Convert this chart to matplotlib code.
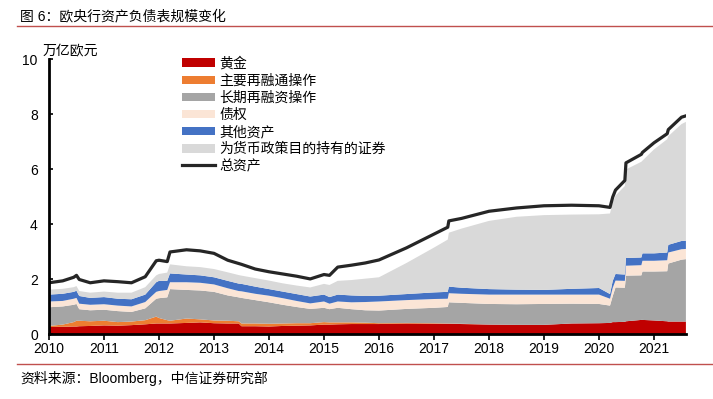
import numpy as np
import matplotlib
matplotlib.use("Agg")
from matplotlib import pyplot as plt

plt.rcParams['font.family'] = ['Liberation Sans', 'Noto Sans CJK SC', 'DejaVu Sans']

# fechas en años decimales (lecturas del gráfico original)
years = [2010.00, 2010.25, 2010.45, 2010.50, 2010.55, 2010.75, 2011.00, 2011.25, 2011.50, 2011.75,
         2011.95, 2012.00, 2012.15, 2012.20, 2012.50, 2012.75, 2013.00, 2013.25, 2013.45, 2013.50,
         2013.75, 2014.00, 2014.25, 2014.50, 2014.75, 2015.00, 2015.10, 2015.25, 2015.50, 2015.75,
         2016.00, 2016.50, 2017.00, 2017.25, 2017.27, 2017.50, 2018.00, 2018.50, 2019.00, 2019.50,
         2020.00, 2020.20, 2020.25, 2020.30, 2020.47, 2020.49, 2020.77, 2020.79, 2021.00, 2021.24,
         2021.26, 2021.50, 2021.58]

# componentes (万亿欧元)
gold = [.27, .28, .29, .29, .30, .31, .33, .32, .34, .37,
        .40, .40, .40, .40, .42, .44, .41, .40, .40, .30,
        .30, .29, .31, .32, .33, .36, .36, .37, .38, .38,
        .38, .40, .39, .39, .39, .38, .36, .35, .35, .40,
        .41, .42, .45, .45, .46, .48, .53, .53, .51, .48,
        .47, .47, .47]
mro = [.04, .08, .16, .21, .20, .17, .17, .13, .13, .15,
       .25, .20, .12, .10, .16, .11, .10, .10, .08, .10,
       .10, .10, .09, .09, .08, .09, .08, .07, .06, .05,
       .03, .02, .02, .01, .01, .01, 0, 0, 0, 0,
       0, 0, 0, 0, 0, 0, 0, 0, 0, 0,
       0, 0, 0]
ltro = [.68, .66, .63, .61, .42, .40, .40, .40, .35, .43,
        .65, .72, .83, 1.15, 1.04, 1.05, 1.04, .92, .87, .93,
        .85, .78, .68, .59, .52, .52, .48, .53, .48, .45,
        .46, .51, .56, .60, .77, .76, .75, .75, .76, .72,
        .70, .63, .95, 1.26, 1.24, 1.66, 1.62, 1.76, 1.78, 1.82,
        2.11, 2.25, 2.27]
claims = [.21, .20, .22, .22, .20, .20, .20, .20, .20, .23,
          .25, .26, .27, .25, .28, .28, .27, .26, .23, .24,
          .23, .24, .24, .22, .20, .23, .20, .23, .25, .30,
          .33, .32, .32, .30, .33, .33, .34, .35, .34, .33,
          .34, .25, .30, .25, .25, .36, .37, .39, .39, .40,
          .40, .38, .37]
other = [.25, .26, .25, .26, .28, .25, .26, .25, .26, .27,
         .35, .37, .33, .32, .28, .27, .26, .27, .27, .27,
         .26, .24, .24, .25, .25, .25, .24, .25, .25, .22,
         .21, .22, .24, .25, .24, .22, .20, .18, .17, .21,
         .24, .17, .25, .24, .23, .28, .28, .27, .27, .28,
         .28, .30, .30]
securities = [.18, .18, .17, .17, .18, .19, .20, .22, .24, .27,
              .25, .25, .30, .33, .30, .30, .30, .31, .31, .30,
              .31, .31, .30, .31, .33, .39, .44, .50, .56, .63,
              .67, 1.13, 1.63, 1.90, 1.96, 2.15, 2.48, 2.65, 2.72, 2.70,
              2.68, 2.93, 2.85, 2.85, 3.22, 3.22, 3.48, 3.37, 3.78, 4.12,
              3.95, 4.25, 4.32]
total = [1.88, 1.95, 2.08, 2.15, 2.00, 1.88, 1.95, 1.92, 1.88, 2.10,
         2.68, 2.70, 2.65, 3.00, 3.08, 3.04, 2.95, 2.70, 2.58, 2.55,
         2.38, 2.28, 2.20, 2.12, 2.02, 2.18, 2.15, 2.45, 2.52, 2.60,
         2.71, 3.15, 3.65, 3.90, 4.13, 4.22, 4.48, 4.60, 4.68, 4.70,
         4.68, 4.62, 5.00, 5.25, 5.60, 6.24, 6.55, 6.62, 6.97, 7.30,
         7.45, 7.90, 7.95]

labels = ['黄金', '主要再融通操作', '长期再融资操作', '债权', '其他资产', '为货币政策目的持有的证券']
colores = ['#C00000', '#ED7D31', '#A5A5A5', '#FBE5D6', '#4472C4', '#D9D9D9']

fig = plt.figure(figsize=(7.13, 3.99), dpi=100)
ax = fig.add_axes([0.0687, 0.1617, 0.8933, 0.6893])

ax.stackplot(years, gold, mro, ltro, claims, other, securities,
             colors=colores, labels=labels, linewidth=0)
ax.plot(years, total, color='#262626', linewidth=2.3, label='总资产')

ax.set_xlim(2010, 2021.58)
ax.set_ylim(0, 10)
ax.set_xticks(range(2010, 2022))
ax.set_yticks([0, 2, 4, 6, 8, 10])
ax.tick_params(axis='x', direction='out', length=4, width=1.2, labelsize=10, pad=1.5)
ax.tick_params(axis='y', direction='in', length=3, width=1.2, labelsize=10, pad=8)
for s in ['top', 'right']:
    ax.spines[s].set_visible(False)
ax.spines['left'].set_linewidth(2)
ax.spines['bottom'].set_linewidth(2)
ax.set_axisbelow(False)

ax.text(-0.01, 1.005, '万亿欧元', transform=ax.transAxes, fontsize=10, ha='left', va='bottom')

leg = ax.legend(loc='upper left', bbox_to_anchor=(0.2, 1.03), frameon=False, fontsize=10,
                handlelength=2.4, handleheight=0.6, labelspacing=0.22, handletextpad=0.3,
                borderaxespad=0)

# titulo y fuente
fig.text(20 / 713, 1 - 16 / 399, '图 6：欧央行资产负债表规模变化', fontsize=10, ha='left', va='center')
fig.add_artist(plt.Line2D([17 / 713, 1], [1 - 26 / 399, 1 - 26 / 399], color='#C0504D', linewidth=1,
                          transform=fig.transFigure))
fig.add_artist(plt.Line2D([17 / 713, 1], [1 - 364 / 399, 1 - 364 / 399], color='#C0504D', linewidth=1,
                          transform=fig.transFigure))
fig.text(20 / 713, 1 - 378 / 399, '资料来源：Bloomberg，中信证券研究部', fontsize=10, ha='left', va='center')

plt.savefig('out.png', dpi=100)
